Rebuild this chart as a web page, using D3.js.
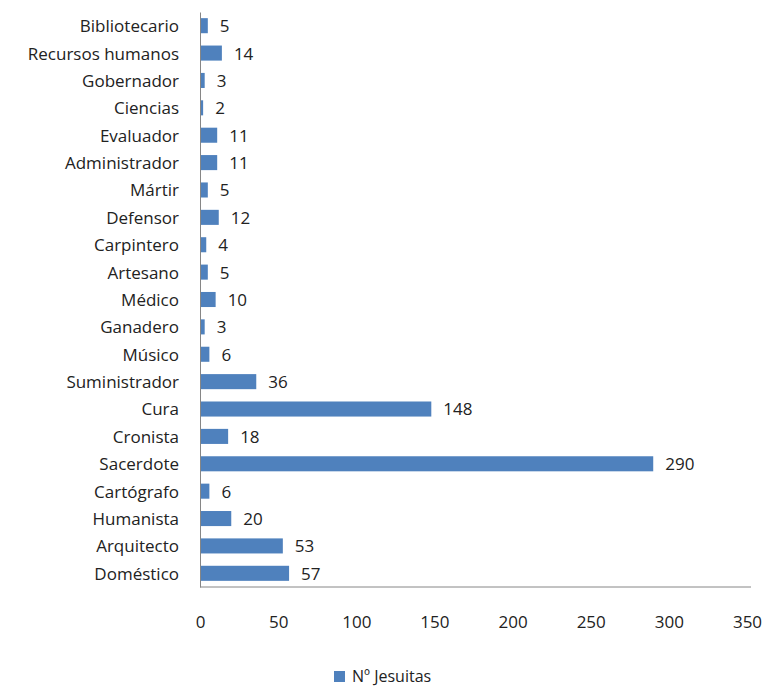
<!DOCTYPE html>
<html><head><meta charset="utf-8">
<script src="https://cdn.jsdelivr.net/npm/d3@7"></script>
<style>body{margin:0;background:#fff}svg{display:block}text{font-family:"Open Sans",sans-serif;fill:#222}</style>
</head><body>
<script>
const categories = ["Bibliotecario","Recursos humanos","Gobernador","Ciencias","Evaluador","Administrador","Mártir","Defensor","Carpintero","Artesano","Médico","Ganadero","Músico","Suministrador","Cura","Cronista","Sacerdote","Cartógrafo","Humanista","Arquitecto","Doméstico"];
const values = [5,14,3,2,11,11,5,12,4,5,10,3,6,36,148,18,290,6,20,53,57];
const ticks = [0,50,100,150,200,250,300,350];
const seriesName = "Nº Jesuitas";

const W=768,H=688;
const svg=d3.select("body").append("svg").attr("width",W).attr("height",H);
const x=d3.scaleLinear().domain([0,350]).range([200,747]);
const y=d3.scaleBand().domain(categories).range([12,587]).paddingInner(0.45).paddingOuter(0.225);
const color="#4F81BD";
const FS="17px";

svg.selectAll("rect.bar").data(values).enter().append("rect").attr("class","bar")
 .attr("x",x(0)).attr("y",(d,i)=>y(categories[i])).attr("width",d=>x(d)-x(0)).attr("height",y.bandwidth()).attr("fill",color);

svg.selectAll("text.val").data(values).enter().append("text").attr("class","val")
 .attr("x",d=>x(d)+12).attr("y",(d,i)=>y(categories[i])+y.bandwidth()/2).attr("dy","0.38em")
 .style("font-size",FS).text(d=>d);

// y axis
const ya=svg.append("g").attr("transform",`translate(${x(0)},0)`).call(d3.axisLeft(y).tickSize(0).tickPadding(21));
ya.select(".domain").attr("stroke","#868686");
ya.selectAll("text").style("font-size",FS).style("font-family","'Open Sans',sans-serif").attr("fill","#222").attr("dy","0.38em");
// x axis line
svg.append("line").attr("x1",x(0)).attr("x2",751).attr("y1",587).attr("y2",587).attr("stroke","#868686");
const xa=svg.append("g").attr("transform","translate(0,587)").call(d3.axisBottom(x).tickValues(ticks).tickSize(0).tickPadding(29).tickFormat(d3.format("d")));
xa.select(".domain").remove();
xa.selectAll("text").style("font-size",FS).style("font-family","'Open Sans',sans-serif").attr("fill","#222");

// legend
const lg=svg.append("g").attr("transform","translate(334,671)");
lg.append("rect").attr("width",11).attr("height",11).attr("fill",color);
lg.append("text").attr("x",18).attr("y",5.5).attr("dy","0.36em").style("font-size","16px").text(seriesName);
</script>
</body></html>
